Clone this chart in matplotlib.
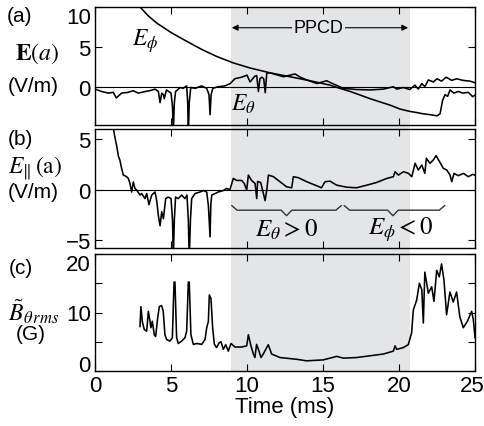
import numpy as np
import matplotlib
matplotlib.use("Agg")
import matplotlib.pyplot as plt
from matplotlib.patches import Rectangle
from matplotlib.transforms import blended_transform_factory, ScaledTranslation

plt.rcParams['font.family'] = ['Liberation Sans', 'DejaVu Sans']
plt.rcParams['mathtext.fontset'] = 'stix'

# ---- data ----
# (a) toroidal field E_phi
t_ephi = [2.5, 2.96, 3.5, 4.05, 5.0, 6.03, 7.0, 8.0, 9.08, 10.2, 11.5, 12.83, 14.15, 15.46,
          16.1, 16.8, 18.1, 19.4, 20.07, 20.73, 21.2, 21.6, 22.04, 22.5, 22.7, 22.87, 23.03,
          23.2, 23.36, 23.6, 23.9, 24.2, 24.56, 24.85, 25.0]
ephi = [11.0, 10.0, 8.9, 8.0, 6.8, 5.7, 4.7, 3.8, 3.0, 2.35, 1.75, 1.25, 0.75, 0.2,
        -0.2, -0.6, -1.5, -2.3, -2.8, -3.1, -3.25, -3.4, -3.5, -3.65, -3.4, -1.7, -1.0,
        -1.2, -0.4, -0.8, -0.6, -0.8, -0.7, -1.25, -1.05]
# (a) poloidal field E_theta
t_eth = [0.0, 0.44, 0.88, 1.2, 1.4, 1.75, 2.2, 2.5, 2.85, 3.3, 3.6, 3.95, 4.17, 4.28, 4.39,
         4.5, 4.56, 4.7, 5.0, 5.1, 5.15, 5.22, 5.3, 5.6, 5.8, 6.03, 6.1, 6.14, 6.2, 6.3, 6.6,
         7.0, 7.35, 7.5, 7.57, 7.64, 7.75, 8.1, 8.55, 8.9, 9.2, 9.65, 10.0, 10.2, 10.5, 10.64,
         10.75, 10.85, 10.97, 11.1, 11.2, 11.3, 11.5, 11.95, 12.4, 12.83, 13.16, 13.5, 13.93,
         14.6, 15.24, 15.68, 16.34, 17.2, 18.1, 18.97, 19.63, 19.85, 20.3, 20.7, 21.05, 21.27,
         21.5, 21.7, 21.93, 22.26, 22.5, 22.8, 23.1, 23.47, 23.8, 24.2, 24.67, 25.0]
eth = [-0.3, -0.6, -0.8, -0.7, -1.4, -0.8, -0.7, -0.5, -0.8, -0.6, -0.5, -0.3, -0.6, -2.0, -0.8,
       -1.0, -1.5, -0.4, -0.8, -2.5, -6.0, -2.0, -0.6, -0.1, -0.2, 0.1, -2.0, -6.0, -2.0, -0.1, -0.2,
       0.1, -0.2, -1.0, -3.5, -1.0, -0.2, 0.0, 0.1, 0.4, 1.0, 1.2, 1.45, 0.6, 1.3, 1.4,
       -0.6, 1.0, 1.2, 1.0, -0.75, 1.7, 1.75, 1.5, 1.25, 1.45, 1.6, 1.2, 0.85,
       0.4, 0.75, 0.35, -0.2, -0.35, -0.4, -0.3, 0.0, -0.3, -0.1, -0.35, 0.2, -0.3,
       0.4, 0.0, 0.85, 0.6, 1.0, 0.7, 1.2, 0.8, 1.0, 0.8, 0.7, 0.5]
# (b) parallel field
t_epar = [1.1, 1.2, 1.32, 1.43, 1.54, 1.64, 1.75, 1.86, 2.08, 2.19, 2.3, 2.41, 2.52, 2.63, 2.74,
          2.96, 3.07, 3.29, 3.4, 3.55, 3.73, 3.95, 4.06, 4.17, 4.28, 4.39, 4.5, 4.65, 4.82, 5.0,
          5.1, 5.15, 5.22, 5.3, 5.48, 5.7, 5.92, 6.05, 6.14, 6.2, 6.28, 6.36, 6.58, 6.9, 7.13,
          7.35, 7.46, 7.57, 7.62, 7.68, 7.9, 8.1, 8.44, 8.66, 8.88, 9.1, 9.32, 9.65, 9.82, 9.98,
          10.09, 10.3, 10.53, 10.64, 10.7, 10.9, 11.19, 11.3, 11.41, 11.74, 12.17, 12.6, 12.94,
          13.05, 13.38, 13.93, 14.59, 14.9, 15.13, 15.46, 15.9, 16.56, 17.2, 17.88, 18.53, 19.2,
          19.63, 19.74, 19.96, 20.3, 20.62, 20.84, 21.06, 21.27, 21.5, 21.7, 21.8, 22.04, 22.26,
          22.44, 22.66, 22.92, 23.14, 23.36, 23.47, 23.62, 23.9, 24.24, 24.56, 24.85, 25.0]
epar = [6.5, 6.1, 5.1, 4.3, 3.3, 2.9, 2.1, 1.45, 1.27, 1.1, 0.6, -0.25, 0.75, 0.1, -0.05,
        -0.55, -0.4, -0.9, -0.4, -1.5, -0.55, -0.25, -1.1, -2.6, -3.6, -2.2, -2.9, -0.9, -0.75, -0.9,
        -3.0, -7.0, -3.0, -0.75, -0.9, -0.55, -0.9, -0.55, -3.0, -7.0, -3.0, -0.9, -0.4, -0.25, -0.1,
        -0.25, -1.6, -4.7, -1.5, -0.55, -0.4, -0.25, -0.1, 0.1, 0.0, 1.1, 0.9, 0.9, 0.6, -0.05,
        1.43, 0.9, 0.6, -0.9, 0.8, 0.7, -1.1, -0.05, 1.43, 1.27, 0.77, 0.27, 0.17,
        1.27, 1.17, 0.77, 0.37, 0.17, 0.77, 0.83, 0.43, 0.23, 0.17, 0.43, 0.7, 1.1,
        1.27, 1.77, 1.43, 1.77, 1.6, 1.27, 2.6, 1.93, 2.43, 1.6, 3.1, 2.6, 2.93,
        3.37, 2.77, 2.1, 1.93, 1.43, 0.77, 1.6, 1.37, 1.6, 1.27, 1.5, 1.43]
# (c) rms poloidal magnetic fluctuation
t_b = [2.96, 3.02, 3.11, 3.24, 3.4, 3.51, 3.62, 3.68, 3.77, 3.9, 3.99, 4.12, 4.23, 4.38, 4.49,
       4.6, 4.71, 4.93, 5.09, 5.2, 5.26, 5.37, 5.48, 5.7, 5.92, 6.03, 6.14, 6.2, 6.31, 6.47,
       6.69, 7.02, 7.24, 7.35, 7.46, 7.52, 7.63, 7.74, 7.85, 8.0, 8.16, 8.29, 8.44, 8.6, 8.77,
       8.95, 9.21, 9.65, 9.98, 10.09, 10.26, 10.42, 10.52, 10.63, 10.79, 10.92, 11.07, 11.4,
       11.62, 12.17, 13.27, 13.92, 15.02, 15.9, 16.34, 17.21, 18.09, 18.97, 19.63, 19.74, 19.85,
       20.28, 20.61, 20.83, 20.94, 21.16, 21.34, 21.5, 21.6, 21.7, 21.93, 22.15, 22.3, 22.48,
       22.65, 22.8, 22.96, 23.13, 23.35, 23.57, 23.79, 24.0, 24.23, 24.5, 24.78, 24.89, 25.0]
b_rms = [7.6, 11.0, 8.5, 7.1, 6.8, 10.2, 8.5, 7.4, 8.5, 6.2, 5.9, 9.0, 11.0, 11.2, 10.2,
         6.2, 5.4, 5.1, 5.7, 15.2, 15.2, 5.7, 4.7, 5.1, 5.7, 6.8, 15.2, 15.2, 6.2, 4.55,
         4.7, 4.55, 5.4, 7.4, 8.5, 13.0, 12.4, 7.4, 4.6, 4.0, 4.8, 5.0, 3.7, 4.5, 3.4,
         4.7, 4.1, 4.1, 4.3, 6.2, 4.3, 2.9, 2.3, 4.55, 3.4, 2.3, 2.9, 4.5,
         2.9, 2.3, 2.0, 1.74, 1.9, 2.5, 2.2, 2.3, 2.6, 2.9, 3.4, 4.3, 3.7,
         4.0, 4.5, 6.5, 10.4, 12.1, 15.0, 13.9, 8.2, 16.9, 13.3, 14.4, 11.9, 17.2,
         16.1, 18.3, 15.5, 9.6, 13.5, 11.8, 13.5, 9.3, 7.4, 8.5, 10.2, 8.8, 5.7]

ppcd_span = (8.95, 20.7)
braces = [(9.0, 12.6, 16.2), (16.4, 19.6, 23.0)]   # start, tip, end (ms)

shade = '#e4e5e8'
lw_trace = 1.15

fig = plt.figure(figsize=(4.85, 4.27), dpi=100)
left, width = 95 / 485, 380 / 485
ax_a = fig.add_axes([left, 1 - 126 / 427, width, 118 / 427])
ax_b = fig.add_axes([left, 1 - 249 / 427, width, 119 / 427])
ax_c = fig.add_axes([left, 1 - 372 / 427, width, 117 / 427])

for ax in (ax_a, ax_b, ax_c):
    ax.set_facecolor('none')
    ax.set_xlim(0, 25)
    ax.set_xticks([0, 5, 10, 15, 20, 25])
    ax.tick_params(direction='in', top=True, right=True, length=5, width=0.8,
                   labelsize=16, pad=3)
    for s in ax.spines.values():
        s.set_linewidth(1.0)

# grey PPCD band behind all three panels
tr = blended_transform_factory(ax_c.transData, fig.transFigure)
fig.add_artist(Rectangle((ppcd_span[0], 1 - 372 / 427), ppcd_span[1] - ppcd_span[0],
                         (372 - 8) / 427, transform=tr, facecolor=shade,
                         edgecolor='none', zorder=-1))

# (a)
ax_a.axhline(0, color='k', lw=0.8)
ax_a.plot(t_ephi, ephi, color='k', lw=lw_trace)
ax_a.plot(t_eth, eth, color='k', lw=lw_trace)
ax_a.set_ylim(-4.8, 10)
ax_a.set_yticks([0, 5, 10])
ax_a.set_yticklabels(['0', '5', '10'])
ax_a.get_yticklabels()[-1].set_verticalalignment('top')
ax_a.tick_params(labelbottom=False)
ax_a.text(2.45, 5.9, r'$E_\phi$', fontsize=17, va='center', ha='left')
ax_a.text(8.95, -2.1, r'$E_\theta$', fontsize=17, va='center', ha='left')
ax_a.annotate('', xy=(ppcd_span[0] + 0.05, 7.4), xytext=(ppcd_span[1] - 0.1, 7.4),
              arrowprops=dict(arrowstyle='<|-|>', color='k', lw=0.8,
                              mutation_scale=9, shrinkA=0, shrinkB=0))
ax_a.text(14.7, 7.4, 'PPCD', fontsize=13, ha='center', va='center',
          bbox=dict(facecolor=shade, edgecolor='none', pad=1))

# (b)
ax_b.axhline(0, color='k', lw=0.8)
ax_b.plot(t_epar, epar, color='k', lw=lw_trace)
ax_b.set_ylim(-5.8, 6)
ax_b.set_yticks([-5, 0, 5])
ax_b.set_yticklabels(['\u22125', '0', '5'])
ax_b.tick_params(labelbottom=False)
for x0, xm, x1 in braces:
    bx = [x0, x0 + 0.35, xm - 0.35, xm, xm + 0.35, x1 - 0.35, x1]
    by = [-1.6, -2.05, -2.05, -2.6, -2.05, -2.05, -1.6]
    ax_b.plot(bx, by, color='#333333', lw=1.0)
ax_b.text(12.6, -3.9, r'$E_\theta > 0$', fontsize=18, ha='center', va='center')
ax_b.text(20.1, -3.9, r'$E_\phi < 0$', fontsize=18, ha='center', va='center')

# (c)
ax_c.plot(t_b, b_rms, color='k', lw=lw_trace)
ax_c.set_ylim(0, 19.8)
ax_c.set_yticks([0, 5, 10, 15, 20])
ax_c.set_yticklabels(['0', '', '10', '', '20'])
ylabs = ax_c.get_yticklabels()
ylabs[0].set_verticalalignment('baseline')
ylabs[-1].set_verticalalignment('top')
ax_c.set_xticklabels(['0', '5', '10', '15', '20', '25'])
last = ax_c.get_xticklabels()[-1]
last.set_transform(last.get_transform() + ScaledTranslation(-3 / 100, 0, fig.dpi_scale_trans))
ax_c.set_xlabel('Time (ms)', fontsize=16, labelpad=0)

# panel labels on the left
def ftext(x, y, s, **kw):
    fig.text(x / 485, 1 - y / 427, s, ha='center', va='center', **kw)

ftext(20, 16, '(a)', fontsize=15)
ftext(37, 54, r'$\mathbf{E}(a)$', fontsize=17)
ftext(33, 87, '(V/m)', fontsize=15)
ftext(20, 140, '(b)', fontsize=15)
ftext(35, 168, r'$E_{\|}\,(\mathrm{a})$', fontsize=17)
ftext(33, 193, '(V/m)', fontsize=15)
ftext(21, 268, '(c)', fontsize=15)
ftext(34, 312, r'$\tilde{B}_{\theta\, rms}$', fontsize=17)
ftext(31, 335, '(G)', fontsize=15)

fig.savefig('out.png', dpi=100)
